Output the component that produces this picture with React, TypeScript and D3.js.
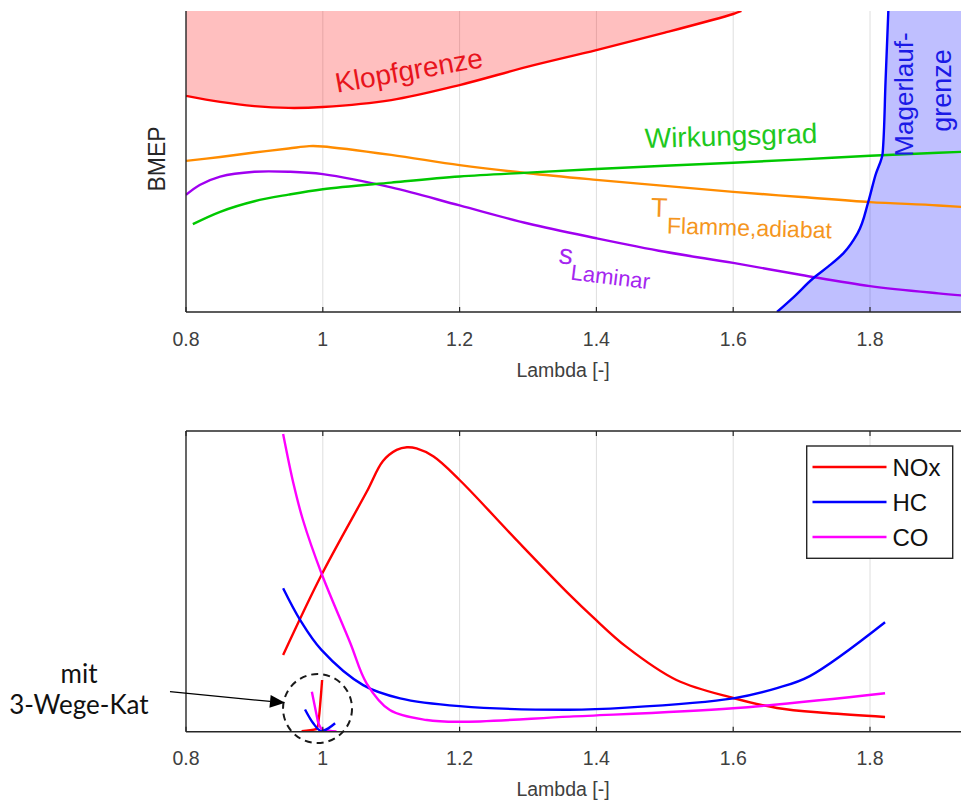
import React from "react";
import * as d3 from "d3";

// ---------- Data (top: BMEP map, arbitrary units 0..100) ----------
const klopfLambda = [0.8, 0.85, 0.9, 0.95, 1.0, 1.1, 1.2, 1.3, 1.4, 1.5, 1.6, 1.612];
const klopfBmep = [71.8, 69.8, 68.4, 67.8, 68.1, 70.4, 75.4, 81.5, 87.0, 92.8, 99.0, 100];

const tLambda = [0.8, 0.85, 0.9, 0.95, 0.98, 1.0, 1.1, 1.2, 1.3, 1.4, 1.5, 1.6, 1.7, 1.8, 1.9, 2.0];
const tBmep = [50.2, 51.5, 53.0, 54.3, 55.1, 55.0, 52.2, 48.8, 46.1, 43.9, 41.9, 39.9, 38.2, 36.5, 35.4, 33.9];

const sLambda = [0.8, 0.82, 0.85, 0.9, 0.95, 1.0, 1.1, 1.2, 1.3, 1.4, 1.5, 1.6, 1.7, 1.8, 1.9, 2.0];
const sBmep = [38.9, 42.2, 45.0, 46.6, 46.6, 45.8, 41.4, 35.4, 29.4, 24.5, 20.0, 16.3, 12.3, 8.6, 6.2, 4.3];

const wLambda = [0.81, 0.85, 0.9, 0.95, 1.0, 1.1, 1.2, 1.3, 1.4, 1.5, 1.6, 1.7, 1.8, 1.9, 2.0];
const wBmep = [29.2, 33.3, 36.8, 39.0, 40.8, 43.0, 45.0, 46.3, 47.5, 48.6, 49.6, 50.7, 51.9, 52.9, 53.8];

const magerLambda = [1.664, 1.69, 1.717, 1.74, 1.761, 1.782, 1.7975, 1.808, 1.8185, 1.8227, 1.8268];
const magerBmep = [0, 5.3, 11.2, 15.3, 19.5, 26.2, 36.6, 45.5, 52.8, 76.4, 100];

// ---------- Data (bottom: emissions, arbitrary units 0..100) ----------
const noxLambda = [0.942, 0.998, 1.064, 1.088, 1.108, 1.123, 1.137, 1.162, 1.2, 1.283, 1.361, 1.395, 1.444, 1.517, 1.6, 1.664, 1.737, 1.822];
const noxValue = [25.5, 52.1, 79.7, 90.0, 93.7, 94.6, 94.2, 91.5, 83.7, 63.8, 45.5, 38.1, 28.2, 17.2, 11.2, 7.9, 6.2, 4.9];

const hcLambda = [0.942, 0.967, 0.998, 1.059, 1.113, 1.2, 1.36, 1.444, 1.6, 1.664, 1.712, 1.822];
const hcValue = [47.7, 37.1, 27.2, 15.5, 11.1, 8.5, 7.3, 8.0, 11.1, 14.5, 18.5, 36.4];

const coLambda = [0.942, 0.957, 0.971, 0.998, 1.04, 1.064, 1.098, 1.152, 1.2, 1.361, 1.6, 1.822];
const coValue = [99.0, 82.6, 70.4, 52.7, 29.6, 16.1, 7.2, 3.9, 3.3, 5.0, 7.8, 12.8];

// with 3-way catalyst
const noxKatLambda = [0.969, 0.991, 0.999];
const noxKatValue = [0.2, 0.9, 17.2];
const coKatLambda = [0.984, 0.991, 0.993, 1.001, 1.02];
const coKatValue = [13.3, 5.5, 3.3, 0.6, 0.1];
const hcKatLambda = [0.974, 0.986, 0.998, 1.008, 1.018];
const hcKatValue = [7.4, 2.8, 0.2, 1.1, 2.8];

// ---------- Axes ----------
const xTicks = [0.8, 1.0, 1.2, 1.4, 1.6, 1.8];
const xTickLabels = ["0.8", "1", "1.2", "1.4", "1.6", "1.8"];
const gridLambda = [1.0, 1.2, 1.4, 1.6, 1.8];
const legendNames = ["NOx", "HC", "CO"];
const legendColors = ["#ff0000", "#0000ff", "#ff00ff"];

const zip = (a: number[], b: number[]) => a.map((v, i) => [v, b[i]] as [number, number]);

export default function App() {
  const W = 961, H = 805;
  const x = d3.scaleLinear().domain([0.8, 2.0]).range([186, 186 + 1.2 * 684]);
  const yT = d3.scaleLinear().domain([0, 100]).range([312, 11]);
  const yB = d3.scaleLinear().domain([0, 100]).range([731.7, 431]);

  const smooth = d3.curveCatmullRom.alpha(0.5);
  const lineT = d3.line<[number, number]>().x(d => x(d[0])).y(d => yT(d[1])).curve(smooth);
  const lineB = d3.line<[number, number]>().x(d => x(d[0])).y(d => yB(d[1])).curve(smooth);
  const lineK = d3.line<[number, number]>().x(d => x(d[0])).y(d => yB(d[1])).curve(d3.curveMonotoneX);

  const klopfArea = d3.area<[number, number]>()
    .x(d => x(d[0])).y0(yT(100)).y1(d => yT(d[1])).curve(smooth);
  const magerData = zip(magerLambda, magerBmep).slice().reverse();
  const magerArea = d3.area<[number, number]>()
    .y(d => yT(d[1])).x0(d => x(d[0])).x1(x(2.0)).curve(d3.curveMonotoneY);
  const magerLine = d3.line<[number, number]>()
    .x(d => x(d[0])).y(d => yT(d[1])).curve(d3.curveMonotoneY);

  const font = "'Liberation Sans', Arial, Helvetica, sans-serif";
  const axisColor = "#262626";
  const gridColor = "#dedede";
  const tickColor = "#404040";
  const lw = 2.4;

  const topL = x(0.8), topR = W;
  const tTop = yT(100), tBot = yT(0);
  const bTop = yB(100), bBot = yB(0);

  // annotation (data coords)
  const arrowStart: [number, number] = [0.7766, 13.3];
  const arrowEnd: [number, number] = [0.9447, 9.6];
  const circleCenter: [number, number] = [0.9923, 7.7];

  const ax0 = x(arrowStart[0]), ay0 = yB(arrowStart[1]);
  const ax1 = x(arrowEnd[0]), ay1 = yB(arrowEnd[1]);
  const ang = Math.atan2(ay1 - ay0, ax1 - ax0);
  const headLen = 15, headW = 6.5;
  const bx = ax1 - headLen * Math.cos(ang), by = ay1 - headLen * Math.sin(ang);
  const head = [
    [ax1, ay1],
    [bx + headW * Math.sin(ang), by - headW * Math.cos(ang)],
    [bx - headW * Math.sin(ang), by + headW * Math.cos(ang)],
  ].map(p => p.join(",")).join(" ");

  return (
    <svg width={W} height={H} style={{ position: "absolute", left: 0, top: 0, background: "#fff" }} fontFamily={font}>
      <defs>
        <clipPath id="clipTop"><rect x={topL} y={tTop} width={topR - topL} height={tBot - tTop} /></clipPath>
        <clipPath id="clipBot"><rect x={topL} y={bTop} width={topR - topL} height={bBot - bTop} /></clipPath>
      </defs>
      <rect x={0} y={0} width={W} height={H} fill="#fff" />

      {/* ================= TOP CHART ================= */}
      <g>
        {gridLambda.map(l => (
          <line key={"gt" + l} x1={x(l)} x2={x(l)} y1={tTop} y2={tBot} stroke={gridColor} strokeWidth={1} />
        ))}
        <g clipPath="url(#clipTop)">
          <path d={klopfArea(zip(klopfLambda, klopfBmep)) || ""} fill="#ff0000" fillOpacity={0.25} />
          <path d={magerArea(magerData) || ""} fill="#0000ff" fillOpacity={0.25} />
          <path d={lineT(zip(tLambda, tBmep)) || ""} fill="none" stroke="#ff8c00" strokeWidth={lw} />
          <path d={lineT(zip(sLambda, sBmep)) || ""} fill="none" stroke="#a000f0" strokeWidth={lw} />
          <path d={lineT(zip(wLambda, wBmep)) || ""} fill="none" stroke="#00c800" strokeWidth={lw} />
          <path d={lineT(zip(klopfLambda, klopfBmep)) || ""} fill="none" stroke="#ff0000" strokeWidth={lw} />
          <path d={magerLine(magerData) || ""} fill="none" stroke="#0000ff" strokeWidth={lw} />
        </g>
        {/* axes */}
        <line x1={topL} x2={topL} y1={tTop} y2={tBot} stroke={axisColor} strokeWidth={1.4} />
        <line x1={topL} x2={topR} y1={tBot} y2={tBot} stroke={axisColor} strokeWidth={1.4} />
        {xTicks.map(t => (
          <line key={"tt" + t} x1={x(t)} x2={x(t)} y1={tBot} y2={tBot - 5} stroke={axisColor} strokeWidth={1.2} />
        ))}
        {xTicks.map((t, i) => (
          <text key={"tl" + t} x={x(t)} y={345.5} textAnchor="middle" fontSize={19.5} fill={tickColor}>{xTickLabels[i]}</text>
        ))}
        <text x={563} y={377} textAnchor="middle" fontSize={19.5} fill={tickColor}>Lambda [-]</text>
        <text transform={`translate(165,159) rotate(-90)`} textAnchor="middle" fontSize={23} fill="#262626">BMEP</text>

        {/* labels */}
        <text transform={`translate(${x(1.0208)},${yT(72.8)}) rotate(-10)`} fontSize={28} fill="#e8141c">Klopfgrenze</text>
        <text transform={`translate(${x(1.471)},${yT(54.5)}) rotate(-1.7)`} fontSize={28} fill="#1ec81e">Wirkungsgrad</text>
        <text transform={`translate(${x(1.4795)},${yT(31.7)}) rotate(1.75)`} fill="#f5961e">
          <tspan fontSize={27}>T</tspan>
          <tspan fontSize={23} dy={16.3}>Flamme,adiabat</tspan>
        </text>
        <text transform={`translate(${x(1.3439)},${yT(16.3)}) rotate(7)`} fill="#a526f0">
          <tspan fontSize={28}>s</tspan>
          <tspan fontSize={22} dy={15}>Laminar</tspan>
        </text>
        <text transform={`translate(913,94.5) rotate(-90)`} textAnchor="middle" fontSize={26} fill="#1a1ae6">Magerlauf-</text>
        <text transform={`translate(951,90.5) rotate(-90)`} textAnchor="middle" fontSize={27} fill="#1a1ae6">grenze</text>
      </g>

      {/* ================= BOTTOM CHART ================= */}
      <g>
        {gridLambda.map(l => (
          <line key={"gb" + l} x1={x(l)} x2={x(l)} y1={bTop} y2={bBot} stroke={gridColor} strokeWidth={1} />
        ))}
        <g clipPath="url(#clipBot)">
          <path d={lineB(zip(noxLambda, noxValue)) || ""} fill="none" stroke="#ff0000" strokeWidth={lw} />
          <path d={lineB(zip(hcLambda, hcValue)) || ""} fill="none" stroke="#0000ff" strokeWidth={lw} />
          <path d={lineB(zip(coLambda, coValue)) || ""} fill="none" stroke="#ff00ff" strokeWidth={lw} />
          <path d={lineK(zip(noxKatLambda, noxKatValue)) || ""} fill="none" stroke="#ff0000" strokeWidth={lw} />
          <path d={lineK(zip(coKatLambda, coKatValue)) || ""} fill="none" stroke="#ff00ff" strokeWidth={lw} />
          <path d={lineK(zip(hcKatLambda, hcKatValue)) || ""} fill="none" stroke="#0000ff" strokeWidth={lw} />
        </g>
        {/* box */}
        <line x1={topL} x2={topL} y1={bTop} y2={bBot} stroke={axisColor} strokeWidth={1.4} />
        <line x1={topL} x2={topR} y1={bBot} y2={bBot} stroke={axisColor} strokeWidth={1.4} />
        <line x1={topL} x2={topR} y1={bTop} y2={bTop} stroke={axisColor} strokeWidth={1.4} />
        {xTicks.map(t => (
          <g key={"bt" + t}>
            <line x1={x(t)} x2={x(t)} y1={bBot} y2={bBot - 5} stroke={axisColor} strokeWidth={1.2} />
            <line x1={x(t)} x2={x(t)} y1={bTop} y2={bTop + 5} stroke={axisColor} strokeWidth={1.2} />
          </g>
        ))}
        {xTicks.map((t, i) => (
          <text key={"bl" + t} x={x(t)} y={764.5} textAnchor="middle" fontSize={19.5} fill={tickColor}>{xTickLabels[i]}</text>
        ))}
        <text x={563} y={796} textAnchor="middle" fontSize={19.5} fill={tickColor}>Lambda [-]</text>

        {/* legend */}
        <rect x={806.7} y={446} width={146} height={112.3} fill="#fff" stroke={axisColor} strokeWidth={1.4} />
        {legendNames.map((n, i) => (
          <g key={n}>
            <line x1={812.5} x2={886.5} y1={467 + i * 35} y2={467 + i * 35} stroke={legendColors[i]} strokeWidth={lw} />
            <text x={892.5} y={467 + i * 35 + 8.8} fontSize={24} fill="#111">{n}</text>
          </g>
        ))}

        {/* annotation */}
        <circle cx={x(circleCenter[0])} cy={yB(circleCenter[1])} r={34.5} fill="none" stroke="#1a1a1a" strokeWidth={2} strokeDasharray="7,5" />
        <line x1={ax0} y1={ay0} x2={bx} y2={by} stroke="#000" strokeWidth={1.2} />
        <polygon points={head} fill="#000" />
        <text x={79} y={683} textAnchor="middle" fontSize={26} fontFamily="Lato, 'Open Sans', sans-serif" fill="#111">mit</text>
        <text x={79} y={714} textAnchor="middle" fontSize={26} fontFamily="Lato, 'Open Sans', sans-serif" fill="#111">3-Wege-Kat</text>
      </g>
    </svg>
  );
}
